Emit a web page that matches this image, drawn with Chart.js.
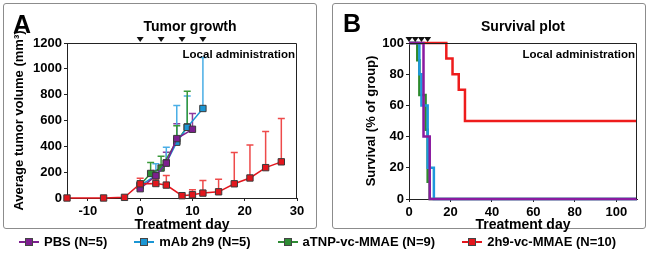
<!DOCTYPE html>
<html>
<head>
<meta charset="utf-8">
<script src="https://cdn.jsdelivr.net/npm/chart.js@4.4.1/dist/chart.umd.min.js"></script>
<style>
body{margin:0;background:#fff;width:650px;height:256px;position:relative;overflow:hidden;font-family:"Liberation Sans",Arial,sans-serif}
.panel{position:absolute;top:3px;width:314px;height:226px;border:1.5px solid #8c8c8c;border-radius:3px;box-sizing:border-box}
.letter{position:absolute;font-weight:bold;font-size:25px;line-height:1}
canvas{position:absolute;top:0}
#legend{position:absolute;left:19px;top:234px;display:flex;gap:27px;font-weight:bold;font-size:13px;line-height:16px}
.item{display:flex;align-items:center;gap:5px}
.icon{position:relative;width:20px;height:2px}
.icon span{position:absolute;left:6px;top:-3px;width:6px;height:6px;border:1px solid #444}
</style>
</head>
<body>
<div class="panel" style="left:3px"></div>
<div class="panel" style="left:332px"></div>
<canvas id="growthChart" width="325" height="236" style="left:0"></canvas>
<canvas id="survivalChart" width="325" height="236" style="left:325px"></canvas>
<div class="letter" style="left:13px;top:12px">A</div>
<div class="letter" style="left:343px;top:11px">B</div>
<div id="legend"></div>
<script>
// groups
var groupNames = ['PBS (N=5)', 'mAb 2h9 (N=5)', 'aTNP-vc-MMAE (N=9)', '2h9-vc-MMAE (N=10)'];
var groupColors = ['#7d1f8f', '#1b96d4', '#2e8b34', '#e3161d'];
var errorColors = ['#8e3a9e', '#4aaee6', '#3a9a3a', '#ee4a4a'];

// panel A: tumor volume (mm3), mean and upper error
var pbsDays = [0, 3, 5, 7, 10];
var pbsVolume = [72, 172, 270, 460, 532];
var pbsError = [15, 40, 85, 115, 122];
var mabDays = [0, 3, 5, 7, 9, 12];
var mabVolume = [95, 175, 272, 432, 547, 693];
var mabError = [15, 90, 120, 284, 243, 395];
var tnpDays = [0, 2, 4, 7, 9];
var tnpVolume = [100, 190, 232, 440, 550];
var tnpError = [15, 85, 92, 120, 277];
var adcDays = [-14, -7, -3, 0, 3, 5, 8, 10, 12, 15, 18, 21, 24, 27];
var adcVolume = [0, 0, 5, 110, 112, 100, 18, 25, 38, 48, 110, 155, 235, 280];
var adcError = [0, 0, 0, 42, 35, 75, 6, 38, 97, 97, 242, 255, 280, 335];
var growthDosing = [0, 4, 8, 12];
var growthXTicks = [-10, 0, 10, 20, 30];
var growthYTicks = [0, 200, 400, 600, 800, 1000, 1200];

// panel B: survival (% of group), steps
var pbsSurvDays = [0, 7, 10, 110];
var pbsSurv = [100, 40, 0, 0];
var mabSurvDays = [0, 5, 6, 9, 12, 110];
var mabSurv = [100, 80, 60, 20, 0, 0];
var tnpSurvDays = [0, 4, 5, 8, 9, 10, 110];
var tnpSurv = [100, 88.9, 66.7, 44.4, 11.1, 0, 0];
var adcSurvDays = [0, 18, 21, 24, 27, 110];
var adcSurv = [100, 90, 80, 70, 50, 50];
var survivalDosing = [0, 3, 6, 9];
var survivalXTicks = [0, 20, 40, 60, 80, 100];
var survivalYTicks = [0, 20, 40, 60, 80, 100];

Chart.defaults.font.family = '"Liberation Sans", Arial, sans-serif';
Chart.defaults.font.weight = 'bold';
Chart.defaults.color = '#000';

function pts(xs, ys) { return xs.map(function(x, i){ return {x: x, y: ys[i]}; }); }

// frame, title, dosing arrows, label, error bars
var extras = {
    id: 'extras',
    beforeDatasetsDraw: function(chart) {
        var ctx = chart.ctx, sx = chart.scales.x, sy = chart.scales.y;
        chart.data.datasets.forEach(function(ds) {
            if (!ds.errors) return;
            ctx.save();
            ctx.strokeStyle = ds.errorColor;
            ctx.lineWidth = 1.5;
            ds.data.forEach(function(p, j) {
                var e = ds.errors[j];
                if (!e) return;
                var px = sx.getPixelForValue(p.x);
                var y0 = sy.getPixelForValue(p.y), y1 = sy.getPixelForValue(p.y + e);
                ctx.beginPath();
                ctx.moveTo(px, y0); ctx.lineTo(px, y1);
                ctx.moveTo(px - 3.5, y1); ctx.lineTo(px + 3.5, y1);
                ctx.stroke();
            });
            ctx.restore();
        });
    },
    afterDraw: function(chart, args, opts) {
        var ctx = chart.ctx, a = chart.chartArea, sx = chart.scales.x;
        ctx.save();
        ctx.strokeStyle = '#222';
        ctx.lineWidth = 1;
        var t = Math.round(a.top) + 0.5, r = Math.round(a.right) - 0.5;
        ctx.beginPath();
        ctx.moveTo(a.left, t); ctx.lineTo(r, t); ctx.lineTo(r, a.bottom);
        ctx.stroke();
        ctx.fillStyle = '#111';
        opts.dosing.forEach(function(d) {
            var px = sx.getPixelForValue(d);
            ctx.beginPath();
            ctx.moveTo(px - 3.5, a.top - 6);
            ctx.lineTo(px + 3.5, a.top - 6);
            ctx.lineTo(px, a.top - 1);
            ctx.closePath();
            ctx.fill();
        });
        ctx.fillStyle = '#000';
        ctx.font = 'bold 14px "Liberation Sans", Arial, sans-serif';
        ctx.textAlign = 'center';
        ctx.textBaseline = 'alphabetic';
        ctx.fillText(opts.title, (a.left + a.right) / 2 + opts.titleShift, 31);
        ctx.font = 'bold 11.5px "Liberation Sans", Arial, sans-serif';
        ctx.textAlign = 'right';
        ctx.fillText('Local administration', a.right - 2, a.top + 15);
        ctx.restore();
    }
};

function axis(min, max, ticks, title, titlePad, size, vertical) {
    return {
        type: 'linear', min: min, max: max,
        afterBuildTicks: function(s){ s.ticks = ticks.map(function(v){ return {value: v}; }); },
        afterFit: function(s){ if (vertical) s.width = size; else s.height = size; },
        grid: {display: true, drawOnChartArea: false, drawTicks: true, tickLength: 3, color: '#222'},
        border: {display: true, color: '#222', width: 1},
        ticks: {
            font: {size: 13, weight: 'bold'}, color: '#000', padding: vertical ? 2 : 3,
            maxRotation: 0, autoSkip: false,
            callback: function(v){ return String(v); }
        },
        title: {display: true, text: title, font: {size: vertical ? 13 : 14, weight: 'bold'}, color: '#000', padding: titlePad}
    };
}

var growthSets = [
    [pbsDays, pbsVolume, pbsError, 1],
    [mabDays, mabVolume, mabError, 2],
    [tnpDays, tnpVolume, tnpError, 3],
    [adcDays, adcVolume, adcError, 0]
].map(function(g, i) {
    return {
        label: groupNames[i],
        data: pts(g[0], g[1]),
        errors: g[2],
        errorColor: errorColors[i],
        order: g[3],
        borderColor: groupColors[i],
        backgroundColor: groupColors[i],
        borderWidth: 1.5,
        pointStyle: 'rect',
        pointRadius: 4.5,
        pointBorderWidth: 1,
        pointBorderColor: '#3a3a3a',
        pointBackgroundColor: groupColors[i],
        clip: false
    };
});

new Chart(document.getElementById('growthChart'), {
    type: 'line',
    data: {datasets: growthSets},
    options: {
        responsive: false, animation: false, devicePixelRatio: 1,
        layout: {padding: {top: 43, right: 28, left: 0, bottom: 0}},
        scales: {
            x: axis(-14, 30, growthXTicks, 'Treatment day', {bottom: 2}, 38, false),
            y: axis(0, 1200, growthYTicks, 'Average tumor volume (mm\u00B3)', {top: 12}, 67, true)
        },
        plugins: {
            legend: {display: false}, tooltip: {enabled: false},
            extras: {title: 'Tumor growth', titleShift: 8, dosing: growthDosing}
        }
    },
    plugins: [extras]
});

var survColors = ['#8a1aa0', '#1e98dc', '#2d8a2d', '#ee1c1c'];
var survivalSets = [
    [pbsSurvDays, pbsSurv, 0],
    [mabSurvDays, mabSurv, 1],
    [tnpSurvDays, tnpSurv, 2],
    [adcSurvDays, adcSurv, 3]
].map(function(g, i) {
    return {
        label: groupNames[i],
        data: pts(g[0], g[1]),
        order: g[2],
        stepped: true,
        borderColor: survColors[i],
        borderWidth: 2.5,
        pointRadius: 0,
        clip: false
    };
});

new Chart(document.getElementById('survivalChart'), {
    type: 'line',
    data: {datasets: survivalSets},
    options: {
        responsive: false, animation: false, devicePixelRatio: 1,
        layout: {padding: {top: 43, right: 13, left: 0, bottom: 0}},
        scales: {
            x: axis(0, 110, survivalXTicks, 'Treatment day', {bottom: 2}, 37, false),
            y: axis(0, 100, survivalYTicks, 'Survival (% of group)', {top: 39}, 84, true)
        },
        plugins: {
            legend: {display: false}, tooltip: {enabled: false},
            extras: {title: 'Survival plot', titleShift: 0, dosing: survivalDosing}
        }
    },
    plugins: [extras]
});

// legend under both panels
var legend = document.getElementById('legend');
groupNames.forEach(function(name, i) {
    var item = document.createElement('div');
    item.className = 'item';
    item.innerHTML = '<div class="icon" style="background:' + groupColors[i] + '"><span style="background:' + groupColors[i] + '"></span></div><div>' + name + '</div>';
    legend.appendChild(item);
});
</script>
</body>
</html>
